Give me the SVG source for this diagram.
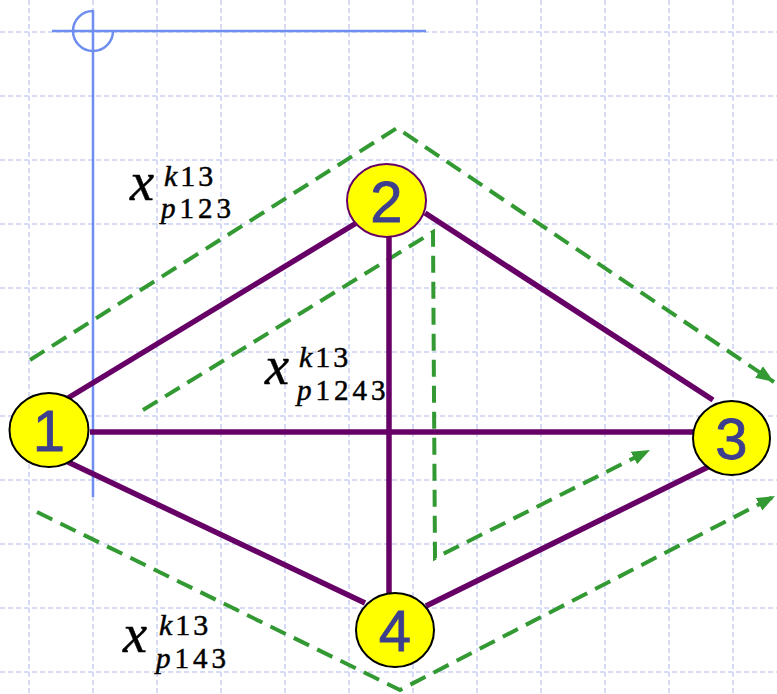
<svg xmlns="http://www.w3.org/2000/svg" width="777" height="694" viewBox="0 0 777 694">
<style>
.grid{stroke:#d6dcf8;stroke-width:2;stroke-dasharray:5 3;fill:none}
.axis{stroke:#6f8ef0;stroke-width:2.5;fill:none}
.edge{stroke:#660066;stroke-width:5.5;fill:none}
.flow{stroke:#339933;stroke-width:4;stroke-dasharray:17 9;fill:none}
.node{fill:#ffff00;stroke:#000;stroke-width:2}
.lab{font-family:"Liberation Serif","DejaVu Serif",serif;fill:#000;stroke:#000;stroke-width:0.5}
</style>
<defs>
<marker id="arr" markerUnits="userSpaceOnUse" markerWidth="20" markerHeight="16" refX="18" refY="7" orient="auto">
<path d="M0,0 L18,7 L0,14 z" fill="#339933"/>
</marker>
</defs>
<g id="grid">
<path class="grid" d="M29,0V694M93,0V694M157,0V694M221,0V694M285,0V694M349,0V694M413,0V694M477,0V694M541,0V694M605,0V694M669,0V694M733,0V694"/>
<path class="grid" d="M0,32H777M0,96H777M0,160H777M0,224H777M0,288H777M0,352H777M0,416H777M0,480H777M0,544H777M0,608H777M0,672H777"/>
</g>
<g id="axes">
<path class="axis" d="M52,31H426M93,10V497"/>
<path class="axis" d="M93,11A20,20 0 1 0 113,31"/>
</g>
<g id="labels">
<g id="label-p123">
<text class="lab" x="130" y="200" font-size="54" font-style="italic">x</text>
<text class="lab" x="164" y="186" font-size="30" letter-spacing="3"><tspan font-style="italic">k</tspan>13</text>
<text class="lab" x="161" y="218" font-size="29" letter-spacing="4"><tspan font-style="italic">p</tspan>123</text>
</g>
<g id="label-p1243">
<text class="lab" x="265" y="384" font-size="54" font-style="italic">x</text>
<text class="lab" x="299" y="367" font-size="30" letter-spacing="3"><tspan font-style="italic">k</tspan>13</text>
<text class="lab" x="297" y="400" font-size="29" letter-spacing="4"><tspan font-style="italic">p</tspan>1243</text>
</g>
<g id="label-p143">
<text class="lab" x="123" y="652" font-size="54" font-style="italic">x</text>
<text class="lab" x="159" y="635" font-size="30" letter-spacing="3"><tspan font-style="italic">k</tspan>13</text>
<text class="lab" x="156" y="668" font-size="29" letter-spacing="4"><tspan font-style="italic">p</tspan>143</text>
</g>
</g>
<g id="flows">
<path class="flow" d="M30,360 L397,128 L774,382" marker-end="url(#arr)"/>
<path class="flow" d="M143,410 L433,232 L435,558 L650,450" marker-end="url(#arr)"/>
<path class="flow" d="M37,512 L400,690 L775,496" marker-end="url(#arr)"/>
</g>
<g id="connectors">
<path class="edge" d="M68,398 L358,222"/>
<path class="edge" d="M90,432 H695"/>
<path class="edge" d="M68,462 L365,603"/>
<path class="edge" d="M425,213 L713,400"/>
<path class="edge" d="M389,236 V594"/>
<path class="edge" d="M426,606 L712,465"/>
</g>
<g font-family="'Liberation Sans', Arial, sans-serif" font-size="58" fill="#3e3e8e" stroke="#3e3e8e" stroke-width="0.8" text-anchor="middle">
<g id="node1">
<ellipse class="node" cx="49" cy="430" rx="39.5" ry="37"/>
<text x="49" y="451">1</text>
</g>
<g id="node2">
<ellipse class="node" cx="386.5" cy="200.5" rx="39.5" ry="36.5" style="stroke:#660066"/>
<text x="386.5" y="222">2</text>
</g>
<g id="node3">
<ellipse class="node" cx="731.5" cy="438" rx="38.5" ry="37"/>
<text x="731.5" y="459">3</text>
</g>
<g id="node4">
<ellipse class="node" cx="395" cy="630" rx="39" ry="37"/>
<text x="395" y="651">4</text>
</g>
</g>
</svg>
